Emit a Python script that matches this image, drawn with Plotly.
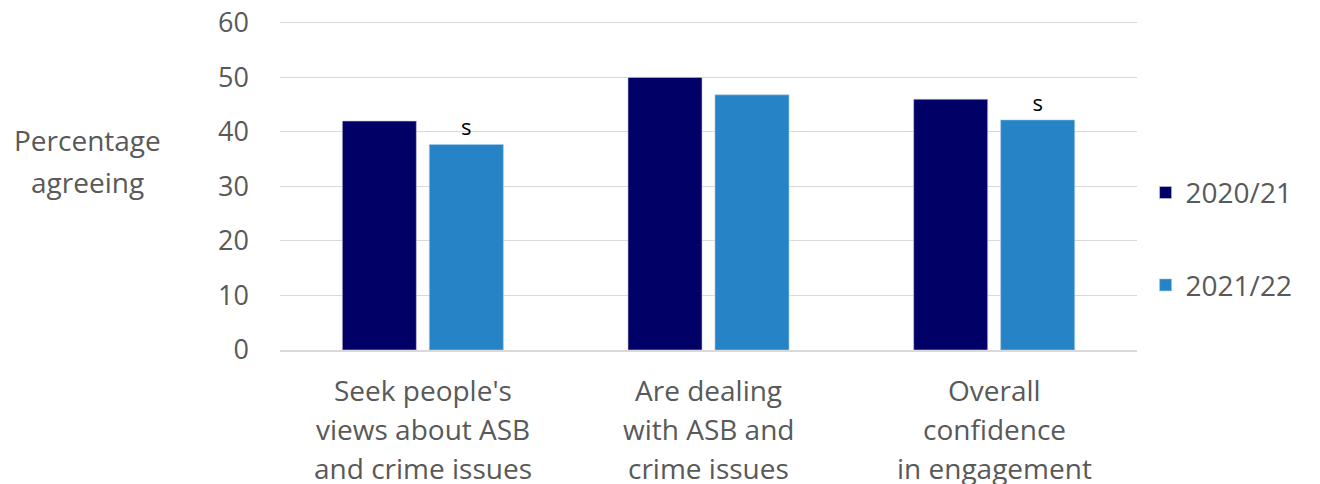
import plotly.graph_objects as go

categories = ["Seek people's views about ASB and crime issues",
              "Are dealing with ASB and crime issues",
              "Overall confidence in engagement"]
cat_lines = [["Seek people's", "views about ASB", "and crime issues"],
             ["Are dealing", "with ASB and", "crime issues"],
             ["Overall", "confidence", "in engagement"]]
y_title_lines = ["Percentage", "agreeing"]
series_names = ["2020/21", "2021/22"]
values_2021 = [42.0, 50.0, 46.0]
values_2122 = [37.7, 46.8, 42.2]
sig_labels_2122 = ["s", "", "s"]
y_ticks = [0, 10, 20, 30, 40, 50, 60]

FONT = "Open Sans"
GREY = "#595959"

fig = go.Figure()
fig.add_trace(go.Bar(x=categories, y=values_2021, name=series_names[0],
                     marker=dict(color="#000066", line=dict(color="#c8c8dc", width=0.6)),
                     legendgroup="a"))
fig.add_trace(go.Bar(x=categories, y=values_2122, name=series_names[1],
                     marker=dict(color="#2683C6", line=dict(color="#a8cbe8", width=0.6)),
                     text=sig_labels_2122, textposition="outside", cliponaxis=False,
                     textfont=dict(family=FONT, size=22, color="#000000"),
                     legendgroup="b"))

annotations = []
for cat, lines in zip(categories, cat_lines):
    for i, ln in enumerate(lines):
        annotations.append(dict(x=cat, xref="x", y=0, yref="paper", yshift=-40 - 39 * i,
                                text=ln, showarrow=False, yanchor="middle", xanchor="center",
                                font=dict(family=FONT, size=28, color=GREY)))
for i, ln in enumerate(y_title_lines):
    annotations.append(dict(x=-0.2252, xref="paper", y=0, yref="paper", yshift=210 - 42 * i,
                            text=ln, showarrow=False, yanchor="middle", xanchor="center",
                            font=dict(family=FONT, size=28, color=GREY)))

fig.update_layout(
    width=1320, height=484,
    margin=dict(l=272, r=191, t=13, b=142),
    plot_bgcolor="white", paper_bgcolor="white",
    barmode="group", bargap=0.391, bargroupgap=0.149,
    font=dict(family=FONT, color=GREY),
    showlegend=True,
    legend=dict(x=1.01, y=0.338, yanchor="middle", xanchor="left",
                font=dict(family=FONT, size=28, color=GREY),
                tracegroupgap=53, itemwidth=30),
    annotations=annotations,
    xaxis=dict(showticklabels=False, showgrid=False, showline=True, automargin=False,
               linecolor="#d9d9d9", linewidth=1.5, ticks=""),
    yaxis=dict(range=[0, 60.35], tickvals=y_ticks, showgrid=True, gridcolor="#d9d9d9",
               gridwidth=1, zeroline=False, showline=False, automargin=False,
               tickfont=dict(family=FONT, size=27, color=GREY),
               ticklabeloverflow="allow",
               ticks="", ticklabelstandoff=30),
)
fig.write_html("out.html")
